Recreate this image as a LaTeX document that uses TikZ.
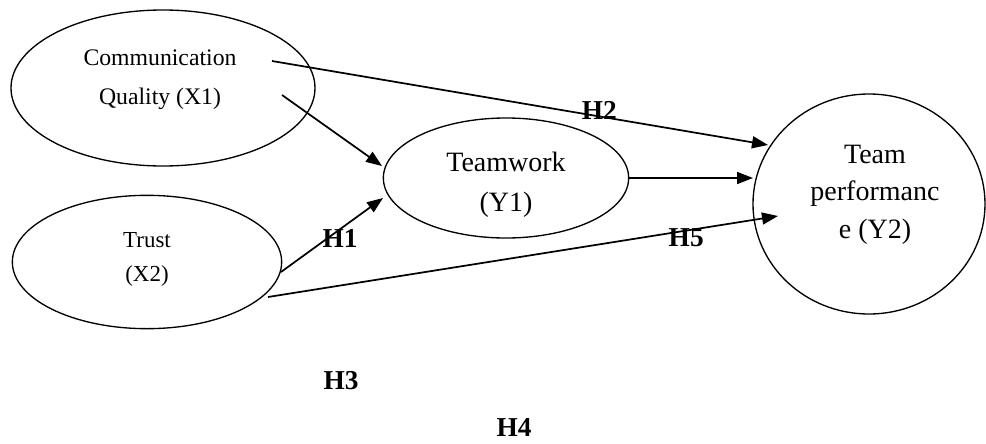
\documentclass[tikz,border=0pt]{standalone}
\usepackage{fontspec}
\setmainfont{Liberation Serif}
\usetikzlibrary{shapes.geometric,arrows.meta,calc}

\tikzset{
  latent/.style={ellipse, draw, line width=1pt, inner sep=0pt},
  hlabel/.style={font=\fontsize{20.5}{24}\selectfont\bfseries, inner sep=0pt},
}

\begin{document}
\begin{tikzpicture}[x=0.75pt,y=-0.75pt,>={Triangle[length=12pt,width=9pt]},line width=1.3pt]
   \useasboundingbox (0,0) rectangle (986,443);
   \node[latent, minimum width=228pt, minimum height=117pt,
     label={[font=\fontsize{17.8}{29}\selectfont, align=center, xshift=-2.25pt, yshift=6pt]center:Communication\\Quality (X1)}] (comm) at (163,88) {};
   \node[latent, minimum width=202pt, minimum height=100pt,
     label={[font=\fontsize{17.2}{26}\selectfont, align=center, yshift=1.9pt]center:Trust\\(X2)}] (trust) at (147,262) {};
   \node[latent, minimum width=184pt, minimum height=90pt,
     label={[font=\fontsize{21}{30}\selectfont, align=center, yshift=-5.25pt]center:Teamwork\\(Y1)}] (team) at (506,178) {};
   \node[latent, minimum width=174pt, minimum height=165pt,
     label={[font=\fontsize{21}{28}\selectfont, align=center, xshift=4.5pt, yshift=7pt]center:Team\\performanc\\e (Y2)}] (perf) at (869,204) {};
    \path[->]
    ($(comm)+(109,-27)$) edge node[hlabel, pos=0.66, yshift=4.5pt] {H2} ($(perf)+(-101,-59)$)
    ($(comm)+(119,7)$)   edge ($(team)+(-124,-12)$)
    ($(trust)+(134,10)$) edge node[hlabel, pos=0.58, yshift=-6.75pt] {H1} ($(team)+(-123,20)$)
    (team.east)          edge ($(perf)+(-116,-26)$)
    ($(trust)+(121,35)$) edge node[hlabel, pos=0.82, yshift=-5pt] {H5} ($(perf)+(-91,12)$);
   \node[hlabel] (h3) at (341,381) {H3};
   \node[hlabel] (h4) at (514,427) {H4};
\end{tikzpicture}
\end{document}
